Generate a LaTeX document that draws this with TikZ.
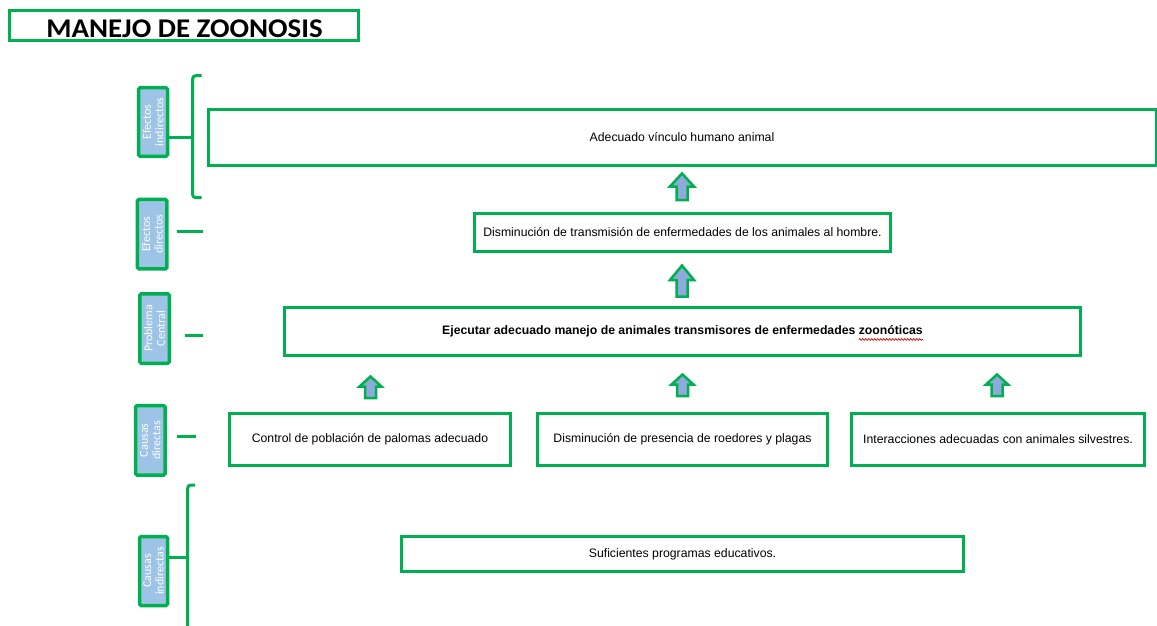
\documentclass[tikz,border=0pt]{standalone}
\usepackage{fontspec}
\setmainfont{Liberation Sans}
\newfontfamily\calib{Carlito}
\usetikzlibrary{decorations.pathmorphing}
\definecolor{ogreen}{RGB}{0,176,80}
\definecolor{sideblue}{RGB}{157,195,230}
\definecolor{arrblue}{RGB}{142,169,219}
\newlength\fullw
\newlength\wordw
\newcommand\bthreefont{\fontsize{12.25}{14}\selectfont\bfseries}
\tikzset{
  mainbox/.style={draw=ogreen, line width=3pt, fill=white, inner sep=0pt, align=center, font=\fontsize{12.25}{14}\selectfont},
  titlebox/.style={draw=ogreen, line width=3pt, inner sep=0pt},
  titletext/.style={inner sep=0pt, font=\calib\bfseries\fontsize{27}{30}\selectfont},
  sidebox/.style={draw=ogreen, line width=3.5pt, fill=sideblue, rounded corners=1.5pt, rotate=90, inner sep=0pt, text=white, align=center, font=\calib\fontsize{12}{12.5}\selectfont},
  conn/.style={draw=ogreen, line width=3pt},
  blockarr/.style={draw=ogreen, line width=2.5pt, fill=arrblue, line join=miter},
  spell/.style={draw=red!85!black, line width=0.7pt, decorate, decoration={snake, amplitude=0.9pt, segment length=3pt}}
}
\newcommand\blockarrow[5]{\draw[blockarr] (#1,#2) -- (#1+#5,#3) -- (#1+5.5,#3) -- (#1+5.5,#4) -- (#1-5.5,#4) -- (#1-5.5,#3) -- (#1-#5,#3) -- cycle;}
\begin{document}
\settowidth{\fullw}{\bthreefont Ejecutar adecuado manejo de animales transmisores de enfermedades zoonóticas}
\settowidth{\wordw}{\bthreefont zoonóticas}
\begin{tikzpicture}[x=1pt,y=-1pt]
\useasboundingbox (0,0) rectangle (1157,626);
\fill[white] (0,0) rectangle (1157,626);
% title
\node[titlebox, minimum width=349pt, minimum height=30pt] (title) at (184,25.5) {};
\node[titletext] (titletxt) at (184.5,28.5) {\scalebox{1.07}[1]{MANEJO DE ZOONOSIS}};
% main boxes
\node[mainbox, minimum width=948pt, minimum height=55.5pt] (b1) at (682,137.25) {Adecuado vínculo humano animal};
\node[mainbox, minimum width=416pt, minimum height=38pt] (b2) at (682.5,232.5) {Disminución de transmisión de enfermedades de los animales al hombre.};
\node[mainbox, minimum width=796pt, minimum height=48pt, font=\bthreefont] (b3) at (682.5,331.5) {Ejecutar adecuado manejo de animales transmisores de enfermedades zoonóticas};
\node[mainbox, minimum width=281pt, minimum height=52pt] (b4a) at (370,439.5) {Control de población de palomas adecuado};
\node[mainbox, minimum width=290pt, minimum height=52pt] (b4b) at (682.5,439.5) {Disminución de presencia de roedores y plagas};
\node[mainbox, minimum width=293pt, minimum height=52pt] (b4c) at (998,439.5) {Interacciones adecuadas con animales silvestres.};
\node[mainbox, minimum width=562pt, minimum height=35pt] (b5) at (682.5,554) {Suficientes programas educativos.};
% spelling underline under the last word of b3
\coordinate (wR) at ([xshift=0.5\fullw, yshift=-8pt]b3.center);
\coordinate (wL) at ([xshift=-\wordw]wR);
\draw[spell] (wL) -- (wR);
% arrows
\blockarrow{682}{173.5}{186.5}{200}{12}
\blockarrow{682}{265.5}{280}{296.5}{12}
\blockarrow{370.5}{376.5}{386.5}{398}{11}
\blockarrow{682.5}{374.5}{384.5}{396}{11}
\blockarrow{997}{374.5}{384.5}{396}{11}
% side labels
\node[sidebox, minimum width=68.5pt, minimum height=29pt] (ei) at (153,122) {Efectos\\indirectos};
\node[sidebox, minimum width=69.5pt, minimum height=29.5pt] (ed) at (152.2,234.2) {Efectos\\directos};
\node[sidebox, minimum width=69.5pt, minimum height=29.5pt] (pc) at (154.5,328.5) {Problema\\Central};
\node[sidebox, minimum width=69.5pt, minimum height=29.5pt] (cd) at (150.3,440.3) {Causas\\directas};
\node[sidebox, minimum width=69pt, minimum height=28pt] (ci) at (153.5,571) {Causas\\indirectas};
% connectors
\coordinate (eiT) at (201.7,75.7);
\coordinate (eiB) at (201.7,197.7);
\coordinate (eiJ) at (192.7,137.7);
\draw[conn, rounded corners=3pt] (eiT) -- (eiT -| eiJ) -- (eiB -| eiJ) -- (eiB);
\draw[conn] (eiJ -| ei.south) -- (eiJ);
\coordinate (edA) at (177,231.7);
\coordinate (edB) at (203,231.7);
\draw[conn] (edA) -- (edB);
\coordinate (pcA) at (185,335);
\coordinate (pcB) at (203,335);
\draw[conn] (pcA) -- (pcB);
\coordinate (cdA) at (177,436);
\coordinate (cdB) at (196,436);
\draw[conn] (cdA) -- (cdB);
\coordinate (ciT) at (195,485);
\coordinate (ciJ) at (187.7,557.3);
\coordinate (ciB) at (187.7,630);
\draw[conn, rounded corners=3pt] (ciT) -- (ciT -| ciJ) -- (ciB);
\draw[conn] (ciJ -| ci.south) -- (ciJ);
\end{tikzpicture}
\end{document}
